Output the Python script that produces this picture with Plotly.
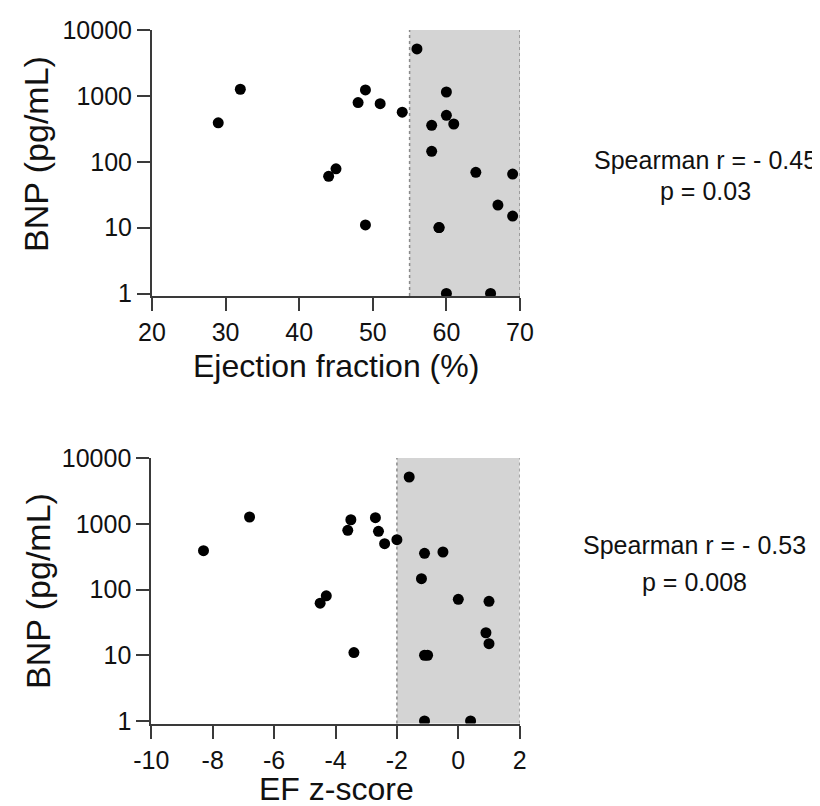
import plotly.graph_objects as go

# ---- data ----
ef = [29, 32, 44, 45, 48, 49, 49, 51, 54, 56, 58, 58, 59, 59, 60, 60, 61, 60, 64, 66, 67, 69, 69]
bnp_ef = [390, 1260, 60, 78, 790, 1230, 11, 760, 565, 5150, 357, 144, 10, 10, 1145, 507, 374, 1, 69, 1, 22, 65, 15]

ef_z = [-8.3, -6.8, -4.5, -4.3, -3.6, -3.5, -3.4, -2.7, -2.6, -2.4, -2.0, -1.6, -1.1, -0.5, -1.2, 0.0, 1.0, 0.9, 1.0, -1.1, -1.0, -1.1, 0.4]
bnp_z = [390, 1267, 62, 80, 795, 1150, 11, 1236, 768, 497, 572, 5140, 355, 372, 146, 71, 66, 22, 15, 10, 10, 1, 1]

y_tickvals = [1, 10, 100, 1000, 10000]
y_ticktext = ["1", "10", "100", "1000", "10000"]
ef_ticks = [20, 30, 40, 50, 60, 70]
ef_ticktext = ["20", "30", "40", "50", "60", "70"]
z_ticks = [-10, -8, -6, -4, -2, 0, 2]
z_ticktext = ["-10", "-8", "-6", "-4", "-2", "0", "2"]
ef_normal = [55, 70]
z_normal = [-2, 2]

FONT = "Liberation Sans, Arial, sans-serif"
AX = "#3a3a3a"
W, H = 820, 806

fig = go.Figure()
fig.add_trace(go.Scatter(x=ef, y=bnp_ef, mode="markers", xaxis="x", yaxis="y",
                         marker=dict(color="black", size=11, line=dict(width=0)), showlegend=False))
fig.add_trace(go.Scatter(x=ef_z, y=bnp_z, mode="markers", xaxis="x2", yaxis="y2",
                         marker=dict(color="black", size=11, line=dict(width=0)), showlegend=False))

common_x = dict(showline=True, linecolor=AX, linewidth=2, ticks="outside", ticklen=13,
                tickwidth=2, tickcolor=AX, showgrid=False, zeroline=False, automargin=False,
                tickfont=dict(family=FONT, size=25, color="#111"))
common_y = dict(type="log", range=[-0.038, 4], tickvals=y_tickvals, ticktext=y_ticktext,
                showline=True, linecolor=AX, linewidth=2, ticks="outside", ticklen=13,
                tickwidth=2, tickcolor=AX, showgrid=False, zeroline=False, automargin=False,
                tickfont=dict(family=FONT, size=25, color="#111"))

fig.update_layout(
    template="none",
    width=W, height=H, margin=dict(l=0, r=0, t=0, b=0, pad=0),
    plot_bgcolor="white", paper_bgcolor="white",
    xaxis=dict(domain=[144 / W, 512 / W], range=[20, 70], tickvals=ef_ticks,
               ticktext=ef_ticktext, anchor="y", **common_x),
    yaxis=dict(domain=[1 - 288 / H, 1 - 22 / H], anchor="x", **common_y),
    xaxis2=dict(domain=[143.3 / W, 511.7 / W], range=[-10, 2], tickvals=z_ticks,
                ticktext=z_ticktext, anchor="y2", **common_x),
    yaxis2=dict(domain=[1 - 715.5 / H, 1 - 450 / H], anchor="x2", **common_y),
)

# shaded normal ranges with dotted borders
for xr, xa, ya in [(ef_normal, "x", "y"), (z_normal, "x2", "y2")]:
    fig.add_shape(type="rect", xref=xa, yref=ya + " domain", x0=xr[0], x1=xr[1], y0=0, y1=1,
                  fillcolor="#d4d4d4", line=dict(width=0), layer="below")
    for xv in xr:
        fig.add_shape(type="line", xref=xa, yref=ya + " domain", x0=xv, x1=xv, y0=0, y1=1,
                      line=dict(color="#8a8a8a", width=1.5, dash="dot"), layer="below")

def px_ann(text, x, y, size, angle=0):
    fig.add_annotation(text=text, x=x / W, y=1 - y / H, xref="paper", yref="paper",
                       showarrow=False, textangle=angle, xanchor="center", yanchor="middle",
                       font=dict(family=FONT, size=size, color="#111"))

# axis titles
px_ann("Ejection fraction (%)", 328, 358, 32)
px_ann("EF z-score", 328, 781, 32)
px_ann("BNP (pg/mL)", 28, 146, 34, angle=-90)
px_ann("BNP (pg/mL)", 30, 583, 34, angle=-90)

# statistics
px_ann("Spearman r = - 0.45", 697, 152, 25)
px_ann("p = 0.03", 697, 183, 25)
px_ann("Spearman r = - 0.53", 686, 537, 25)
px_ann("p = 0.008", 686, 574, 25)

fig.write_html("out.html")
